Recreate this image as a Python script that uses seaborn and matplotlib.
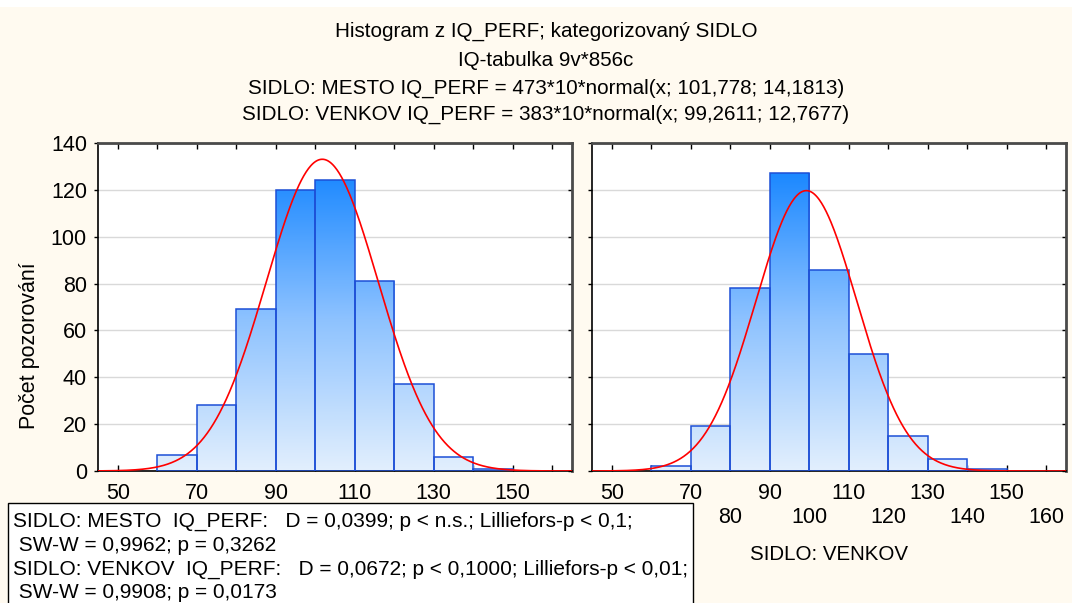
import numpy as np
import pandas as pd
import matplotlib
matplotlib.use("Agg")
import matplotlib.pyplot as plt
import matplotlib.lines as mlines
from matplotlib.colors import LinearSegmentedColormap
from matplotlib.patches import Rectangle
import seaborn as sns

# --- data -----------------------------------------------------------------
bin_edges = [60, 70, 80, 90, 100, 110, 120, 130, 140, 150]
mesto_counts = [7, 28, 69, 120, 124, 81, 37, 6, 1]
venkov_counts = [2, 19, 78, 127, 86, 50, 15, 5, 1]

groups = ["MESTO", "VENKOV"]
fit_n = [473, 383]
fit_mean = [101.778, 99.2611]
fit_sd = [14.1813, 12.7677]
bin_width = 10

title_lines = [
    "Histogram z IQ_PERF; kategorizovaný SIDLO",
    "IQ-tabulka 9v*856c",
    "SIDLO: MESTO IQ_PERF = 473*10*normal(x; 101,778; 14,1813)",
    "SIDLO: VENKOV IQ_PERF = 383*10*normal(x; 99,2611; 12,7677)",
]
box_lines = [
    "SIDLO: MESTO  IQ_PERF:   D = 0,0399; p < n.s.; Lilliefors-p < 0,1;",
    " SW-W = 0,9962; p = 0,3262",
    "SIDLO: VENKOV  IQ_PERF:   D = 0,0672; p < 0,1000; Lilliefors-p < 0,01;",
    " SW-W = 0,9908; p = 0,0173",
]
y_label = "Počet pozorování"
x_ticks = list(range(50, 161, 10))
# staggered labels: first row 50, 70, ..., 150; second row 80, 100, ..., 160
x_ticklabels_row1 = ["50", "", "70", "", "90", "", "110", "", "130", "", "150", ""]
x_ticklabels_both = ["50", "", "70", "80", "90", "100", "110", "120", "130", "140", "150", "160"]
y_ticks = list(range(0, 141, 20))

# --- style ----------------------------------------------------------------
sns.set_theme(style="white")
plt.rcParams["font.family"] = ["Liberation Sans", "DejaVu Sans"]

W, H = 1072, 603
fig = plt.figure(figsize=(W / 100, H / 100), dpi=100)
fig.patch.set_facecolor("#FFFAF0")
fig.patches.append(Rectangle((0, 1 - 7 / H), 1, 7 / H, transform=fig.transFigure,
                             facecolor="white", edgecolor="none", zorder=0))

bar_cmap = LinearSegmentedColormap.from_list(
    "bar_grad", [(0.0, "#E2EFFD"), (0.5, "#8DC2FF"), (1.0, "#1786FF")])

def px_axes(x0, x1, y0, y1):
    return [x0 / W, 1 - y1 / H, (x1 - x0) / W, (y1 - y0) / H]

axes = [fig.add_axes(px_axes(98, 572, 143, 471)),
        fig.add_axes(px_axes(592, 1066, 143, 471))]

x_curve = np.linspace(45, 165, 600)
centers = [(a + b) / 2 for a, b in zip(bin_edges[:-1], bin_edges[1:])]

TICK_FS = 15.5

for i, (ax, counts) in enumerate(zip(axes, [mesto_counts, venkov_counts])):
    ax.set_facecolor("white")
    df = pd.DataFrame({"IQ_PERF": centers, "n": counts})
    sns.histplot(data=df, x="IQ_PERF", weights="n", bins=bin_edges, ax=ax,
                 stat="count", edgecolor="#1D4FD6", linewidth=1.1,
                 facecolor="none", alpha=1, zorder=3)
    # vertical gradient inside each bar
    for p in ax.patches:
        x0, h = p.get_x(), p.get_height()
        w = p.get_width()
        grad = np.linspace(0, h, 256).reshape(-1, 1)
        im = ax.imshow(grad, extent=[x0, x0 + w, 0, h], origin="lower",
                       aspect="auto", cmap=bar_cmap, vmin=0, vmax=130,
                       zorder=2, interpolation="bilinear")
        im.set_clip_path(p)
        p.set_facecolor("none")

    # fitted normal curve: n * bin width * normal pdf
    y_curve = fit_n[i] * bin_width * np.exp(-0.5 * ((x_curve - fit_mean[i]) / fit_sd[i]) ** 2) \
        / (fit_sd[i] * np.sqrt(2 * np.pi))
    sns.lineplot(x=x_curve, y=y_curve, ax=ax, color="#FF0000", linewidth=1.2, zorder=4)

    ax.set_xlim(45, 165)
    ax.set_ylim(0, 140)
    ax.set_yticks(y_ticks)
    ax.set_xticks(x_ticks)
    # the left panel's second label row and axis title sit under the statistics box
    ax.set_xticklabels(x_ticklabels_row1 if i == 0 else x_ticklabels_both)
    ax.yaxis.grid(True, color="#D9D9D9", linewidth=1)
    ax.xaxis.grid(False)
    ax.set_axisbelow(True)

    ax.tick_params(axis="x", direction="in", top=True, bottom=True, length=4,
                   width=1, color="black", labelsize=TICK_FS, labelcolor="black")
    ax.tick_params(axis="y", direction="out", left=True, right=True, length=3,
                   width=1, color="black", labelsize=TICK_FS, labelcolor="black", pad=5)
    for k, t in enumerate(ax.xaxis.get_major_ticks()):
        t.set_pad(8.5 if k % 2 == 0 else 26)
    for t in ax.yaxis.get_major_ticks():
        t.tick2line.set_marker(mlines.TICKLEFT)
    if i == 1:
        ax.tick_params(axis="y", labelleft=False)

    for side in ["left", "bottom"]:
        ax.spines[side].set_color("black")
        ax.spines[side].set_linewidth(1.2)
    for side in ["top", "right"]:
        ax.spines[side].set_color("#4A4A4A")
        ax.spines[side].set_linewidth(2)
    for s in ax.spines.values():
        s.set_visible(True)

    ax.set_ylabel("")
    if i == 1:
        ax.set_xlabel(f"SIDLO: {groups[i]}", fontsize=14.8, color="black", labelpad=12)
    else:
        ax.set_xlabel("")

fig.text(30 / W, 1 - 346 / H, y_label, rotation=90, ha="center", va="center",
         fontsize=15.5, color="black")

for line, base in zip(title_lines, [37, 66, 94, 120]):
    fig.text(546 / W, 1 - base / H, line, ha="center", va="baseline",
             fontsize=14.9, color="black")

# statistics box in the lower left corner
fig.patches.append(Rectangle((8 / W, -0.02), (693 - 8) / W, 0.02 + 1 - 503 / H,
                             transform=fig.transFigure, facecolor="white",
                             edgecolor="black", linewidth=1, zorder=5))
for line, base in zip(box_lines, [527, 551, 575, 598]):
    fig.text(13 / W, 1 - base / H, line, ha="left", va="baseline",
             fontsize=15.0, color="black", zorder=6)

fig.savefig("out.png", dpi=100, facecolor=fig.get_facecolor())
